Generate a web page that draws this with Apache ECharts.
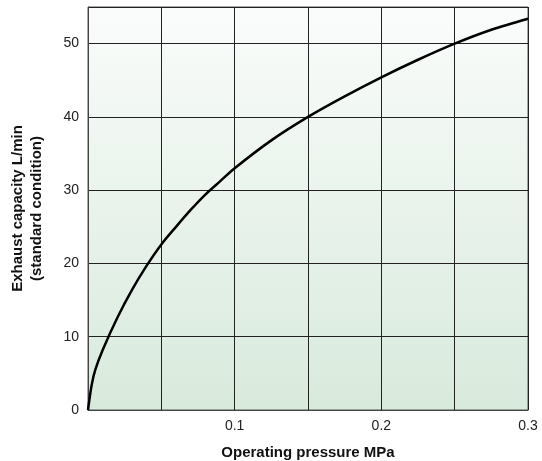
<!DOCTYPE html>
<html><head><meta charset="utf-8">
<script src="https://cdn.jsdelivr.net/npm/echarts@6/dist/echarts.min.js"></script>
<style>html,body{margin:0;padding:0;background:#fff}#c{width:542px;height:461px}</style>
</head><body><div id="c"></div>
<script>
var pressure = [0, 0.0025, 0.005, 0.01, 0.02, 0.03, 0.04, 0.05, 0.06, 0.07, 0.08, 0.09, 0.10, 0.125, 0.15, 0.175, 0.20, 0.225, 0.25, 0.275, 0.30];
var capacity = [0, 3.4, 5.5, 8.2, 12.6, 16.4, 19.7, 22.6, 25.0, 27.3, 29.4, 31.2, 33.0, 36.8, 40.0, 42.8, 45.4, 47.8, 50.0, 51.9, 53.4];
var xTickLabels = ['0.1', '0.2', '0.3'];
var yTickLabels = ['0', '10', '20', '30', '40', '50'];
var xTitle = 'Operating pressure MPa';
var yTitle = 'Exhaust capacity L/min\n(standard condition)';

var data = pressure.map(function(p, i){ return [p, capacity[i]]; });
var chart = echarts.init(document.getElementById('c'));
chart.setOption({
  animation: false,
  textStyle: {fontFamily: 'Liberation Sans, Arial, sans-serif'},
  grid: {left: 88, right: 14, top: 7, bottom: 51, show: true, outerBoundsMode: 'none', containLabel: false,
    borderColor: '#555', borderWidth: 1,
    backgroundColor: new echarts.graphic.LinearGradient(0, 0, 0, 1, [
      {offset: 0, color: '#fafcfb'}, {offset: 1, color: '#d8eadc'}])},
  xAxis: {type: 'value', min: 0, max: 0.3, interval: 0.05,
    name: xTitle, nameLocation: 'middle', nameGap: 35,
    nameTextStyle: {fontWeight: 'bold', fontSize: 15, color: '#111'},
    axisLine: {show: true, lineStyle: {color: '#444'}},
    axisTick: {show: false},
    splitLine: {show: true, lineStyle: {color: '#222', width: 1}},
    axisLabel: {fontSize: 14, color: '#222', margin: 9, formatter: function(v){
      var s = (Math.round(v*100)/100).toString();
      return xTickLabels.indexOf(s) >= 0 ? s : '';
    }}},
  yAxis: {type: 'value', min: 0, max: 55, interval: 10,
    name: yTitle, nameLocation: 'middle', nameGap: 42,
    nameTextStyle: {fontWeight: 'bold', fontSize: 15, color: '#111', lineHeight: 19},
    axisLine: {show: true, lineStyle: {color: '#444'}},
    axisTick: {show: false},
    splitLine: {show: true, lineStyle: {color: '#222', width: 1}},
    axisLabel: {fontSize: 14, color: '#222', margin: 9, showMaxLabel: false, formatter: function(v){
      var s = String(v);
      return yTickLabels.indexOf(s) >= 0 ? s : '';
    }}},
  series: [{type: 'line', data: data, smooth: 0.3, showSymbol: false,
    lineStyle: {color: '#000', width: 2.5}}]
});
</script></body></html>
